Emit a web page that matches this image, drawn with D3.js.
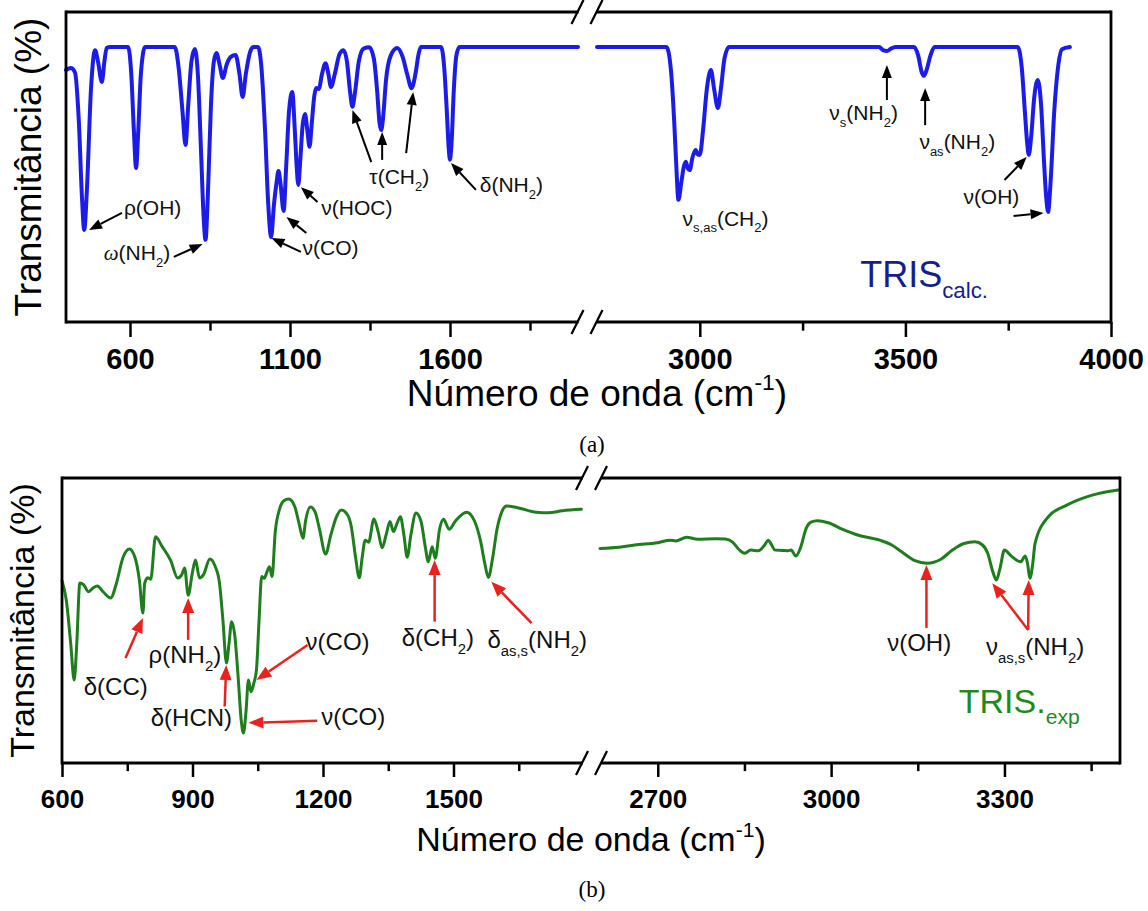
<!DOCTYPE html>
<html lang="pt">
<head>
<meta charset="utf-8">
<title>TRIS - espectros IV</title>
<script src="https://cdn.jsdelivr.net/npm/d3@7"></script>
<style>
body {margin: 0; background: #fff;}
svg {display: block; font-family: "Liberation Sans", Arial, sans-serif;}
</style>
</head>
<body>
<svg id="chart" width="1148" height="911"></svg>
<script>
// ---- calculated spectrum (a), [wavenumber, transmittance]
var calcLeft = [
    [400, 81.3], [415, 81.9], [428, 80.5], [440, 65], [450, 40], [457, 29.7], [465, 42], [478, 75],
    [491, 87.7], [500, 84], [512, 77.4], [520, 84], [527, 88.4], [538, 88.7], [594, 88.7], [604, 80],
    [612, 62], [619, 49.7], [626, 62], [634, 80], [647, 88.7], [740, 88.7], [752, 82], [764, 68],
    [773.5, 57.1], [782, 70], [792, 84], [802.5, 88.1], [812, 80], [822, 55], [830, 34], [836, 26.5],
    [843, 40], [853, 70], [862, 84], [870, 86.8], [880, 83], [890, 78.7], [902, 83], [915, 85.5],
    [930, 86.1], [942, 80], [952, 72.6], [962, 80], [975, 87], [985, 88.7], [1000, 88.7], [1010, 83],
    [1022, 62], [1032, 38], [1041, 27.4], [1050, 38], [1058, 45], [1064, 48.7], [1070, 45], [1080, 35.8],
    [1088, 50], [1097, 68], [1107, 74.2], [1115, 62], [1121, 50], [1126, 44.2], [1132, 52], [1140, 64],
    [1147, 67.1], [1154, 62], [1161, 56.5], [1168, 64], [1176, 73], [1182, 75.5], [1190, 75.2], [1200, 80],
    [1211, 83.5], [1220, 80], [1228, 75.8], [1240, 80], [1255, 86.5], [1267, 87.7], [1278, 84], [1288, 74],
    [1295, 69.4], [1303, 74], [1315, 84], [1330, 88.2], [1348, 88.6], [1362, 85], [1372, 75], [1380, 64],
    [1385, 61.9], [1391, 66], [1400, 78], [1415, 86], [1435, 88.4], [1452, 85.5], [1466, 80], [1480, 75.4],
    [1492, 80], [1502, 86.5], [1509, 88.7], [1572, 88.7], [1582, 82], [1590, 68], [1596, 56], [1600, 52.3],
    [1605, 58], [1612, 75], [1620, 86], [1630, 88.7], [2000, 88.7]
];
var calcRight = [
    [2750, 88.7], [2919, 88.7], [2930, 81], [2938, 64], [2943, 50], [2948, 39.4], [2955, 45], [2961, 50],
    [2966, 51.7], [2971, 49.5], [2975.6, 49], [2982, 53], [2990, 55.5], [2995, 54], [3000, 53.9], [3008, 62],
    [3017, 75], [3027, 81.3], [3035, 75], [3044, 69], [3052, 76], [3060, 85], [3071, 88.7], [3436, 88.7],
    [3447, 87.6], [3455, 87.4], [3465, 88.2], [3476, 88.7], [3521, 88.7], [3531, 86], [3540, 80.5], [3545, 79.4],
    [3552, 81.5], [3561, 86], [3571, 88.7], [3773, 88.7], [3783, 82], [3791, 67], [3796, 58], [3800, 53.9],
    [3806, 60], [3813, 72], [3822, 78.1], [3830, 70], [3837, 52], [3842, 41], [3847, 35.5], [3853, 45],
    [3862, 68], [3872, 83], [3881, 88], [3900, 88.7]
];

// ---- experimental spectrum (b)
var expLeft = [
    [600, 64], [610, 57], [620, 42], [628, 29.1], [634, 42], [641, 63.2], [650, 62.5], [661, 60.1],
    [672, 61.5], [681, 62.1], [695, 60], [712, 57.9], [725, 63], [740, 72], [755, 75.1], [768, 72],
    [778, 64], [786, 52.6], [790, 63], [797, 65], [804, 64.5], [815, 79.4], [830, 76], [850, 71],
    [866, 64.9], [875, 66], [882, 68.4], [890, 58.9], [900, 67], [907, 71.2], [916, 64.9], [925, 66],
    [940, 71.6], [952, 69], [962, 63.2], [970, 50], [978, 35.1], [984, 42], [990, 49.6], [997, 45],
    [1005, 30], [1012, 15], [1017, 10.5], [1023, 18], [1028.5, 29.1], [1034.5, 25], [1041, 28], [1047, 32.6],
    [1053, 50], [1059, 65.4], [1065, 64.8], [1071, 67], [1077, 68.9], [1083, 65.4], [1090, 80.7], [1100, 89],
    [1110, 92], [1121, 92.6], [1135, 90], [1145, 84], [1154, 78.9], [1160, 85], [1171, 89.8], [1182, 88],
    [1192, 82], [1206, 73.3], [1218, 80], [1230, 86], [1242, 88.8], [1256.6, 87], [1265, 83], [1275, 72],
    [1283.4, 65], [1290, 72], [1297, 78.2], [1305, 77.5], [1317, 85.6], [1327, 81], [1336, 75.5], [1345, 80],
    [1354, 84.7], [1362, 81.2], [1370, 84], [1378, 86.4], [1386, 80], [1393.6, 72.2], [1402, 80], [1413.8, 87.7],
    [1425, 85], [1435, 76], [1442, 70.6], [1451, 75.9], [1458, 71.8], [1468, 82], [1477, 85.5], [1490, 82],
    [1505, 85], [1530, 88], [1548, 85], [1562, 78], [1572, 70], [1580, 65.1], [1590, 72], [1600, 82],
    [1612, 88.5], [1622, 90.2], [1650, 89.5], [1690, 88], [1718.6, 87.8], [1750, 88.5], [1794, 89]
];
var expRight = [
    [2600, 75.3], [2633, 75.7], [2660, 76.5], [2700, 77.3], [2721.6, 78.2], [2731, 77.9], [2750, 79.2], [2769, 78.5],
    [2800, 78.7], [2817, 78.6], [2829, 77.6], [2840, 75], [2850, 73.6], [2861, 74.7], [2874, 74.5], [2885, 76.5],
    [2891, 78.2], [2897, 76.5], [2903, 74.7], [2915, 74.6], [2925, 74.5], [2931, 74.7], [2939, 72.6], [2946.6, 75.3],
    [2957, 82.4], [2965, 84.5], [2976, 85], [2995, 84.3], [3020, 82], [3046, 80], [3084, 78.2], [3105, 76.5],
    [3122, 74.1], [3145, 71], [3166, 70.1], [3190, 71.5], [3210, 74.7], [3230, 77], [3249, 77.6], [3262, 76.5],
    [3271, 73.6], [3280, 67], [3286, 64.2], [3292, 68], [3300, 74.7], [3312, 72.6], [3328, 70.6], [3336, 72.6],
    [3340, 70], [3344, 64.8], [3349, 70], [3353, 77.1], [3376, 86.4], [3408, 90.5], [3452, 94], [3497, 95.8]
];

// ---- ticks
var calcTicksLeft = [600, 1100, 1600];
var calcMinorLeft = [850, 1350, 1850];
var calcTicksRight = [3000, 3500, 4000];
var calcMinorRight = [3250, 3750];
var expTicksLeft = [600, 900, 1200, 1500];
var expMinorLeft = [750, 1050, 1350, 1650];
var expTicksRight = [2700, 3000, 3300];
var expMinorRight = [2850, 3150, 3450];

// ---- band assignments: label anchor [wavenumber, T] and arrows [from, to]
var calcLabels = [
    {text: 'ρ(OH)', at: [581, 36.8]},
    {text: '*{ω}(NH_{2})', at: [518, 22.3]},
    {text: 'ν(CO)', at: [1139, 23.9]},
    {text: 'ν(HOC)', at: [1198, 36.8]},
    {text: 'τ(CH_{2})', at: [1348, 46.8]},
    {text: 'δ(NH_{2})', at: [1693, 44.2]},
    {text: 'ν_{s,as}(CH_{2})', at: [2958, 33.5]},
    {text: 'ν_{s}(NH_{2})', at: [3315, 67.4]},
    {text: 'ν_{as}(NH_{2})', at: [3534, 58.1]},
    {text: 'ν(OH)', at: [3641, 40.3]}
];
var calcArrows = [
    [[575, 35.2], [472, 29.7]], [[737, 21], [827, 25.2]], [[1134, 22.6], [1042, 27.1]],
    [[1151, 28.7], [1089, 33.9]], [[1186, 38.7], [1134, 43.5]], [[1354, 51.6], [1295, 68.4]],
    [[1388, 52.3], [1388, 61.3]], [[1463, 54.5], [1485, 74.2]], [[1681, 42.6], [1603, 51.3]],
    [[3455, 71.6], [3455, 82.9]], [[3548, 63.5], [3548, 75.5]], [[3741, 45.8], [3795, 53.2]],
    [[3763, 34.2], [3836, 35.2]]
];
var expLabels = [
    {text: 'δ(CC)', at: [650, 26.8]},
    {text: 'ρ(NH_{2})', at: [799, 37.9]},
    {text: 'δ(HCN)', at: [804, 15.8]},
    {text: 'ν(CO)', at: [1160, 42.6]},
    {text: 'ν(CO)', at: [1196, 16.2]},
    {text: 'δ(CH_{2})', at: [1381, 43.9]},
    {text: 'δ_{as,s}(NH_{2})', at: [1578, 43.2]},
    {text: 'ν(OH)', at: [3097, 42.1]},
    {text: 'ν_{as,s}(NH_{2})', at: [3268, 40.8]}
];
var expArrows = [
    [[746, 36.8], [786, 50.9]], [[890, 43.2], [890, 57.9]], [[974, 19.8], [977.5, 34.4]],
    [[1164.6, 41.4], [1047, 29.1]], [[1186.7, 14.8], [1028.5, 14.1]], [[1456.6, 49.6], [1456.6, 71.2]],
    [[1679.5, 49.1], [1587, 63.6]], [[3165, 47.4], [3165, 69.5]], [[3341, 46.7], [3279, 63.1]],
    [[3341, 46.7], [3342, 64.2]]
];

var svg = d3.select('#chart');

// text with _{sub}, ^{sup} and *{italic} parts
var richText = function(text, str) {
    var fs = parseFloat(text.attr('font-size'));
    var shift = 0;
    str.split(/([_^*]\{[^}]*\})/).filter(function(s) { return s.length; }).forEach(function(s) {
        var target = 0, t = s, small = false, italic = false;
        if (s[0] === '_') { target = 0.32; t = s.slice(2, -1); small = true; }
        if (s[0] === '^') { target = -0.42; t = s.slice(2, -1); small = true; }
        if (s[0] === '*') { t = s.slice(2, -1); italic = true; }
        var ts = text.append('tspan').text(t).attr('dy', ((target - shift) * fs) + 'px');
        if (small) ts.attr('font-size', fs * 0.62);
        if (italic) ts.attr('font-style', 'italic').attr('font-family', '"Liberation Serif", serif');
        shift = target;
    });
};

var arrow = function(g, x1, y1, x2, y2, o) {
    var a = Math.atan2(y2 - y1, x2 - x1);
    var bx = x2 - Math.cos(a) * o.head, by = y2 - Math.sin(a) * o.head;
    g.append('line').attr('x1', x1).attr('y1', y1).attr('x2', bx).attr('y2', by)
        .attr('stroke', o.color).attr('stroke-width', o.width);
    var px = -Math.sin(a) * o.half, py = Math.cos(a) * o.half;
    g.append('path')
        .attr('d', 'M' + x2 + ',' + y2 + 'L' + (bx + px) + ',' + (by + py) + 'L' + (bx - px) + ',' + (by - py) + 'Z')
        .attr('fill', o.color);
};

var drawPanel = function(p) {
    var g = svg.append('g');
    var xl = d3.scaleLinear().domain(p.leftDomain).range(p.leftRange);
    var xr = d3.scaleLinear().domain(p.rightDomain).range(p.rightRange);
    var y = d3.scaleLinear().domain([0, 100]).range([p.bottom, p.top]);
    var xOf = function(w) { return w <= p.leftDomain[1] ? xl(w) : xr(w); };

    [[p.left, xl], [p.right, xr]].forEach(function(s) {
        var line = d3.line().x(function(d) { return s[1](d[0]); }).y(function(d) { return y(d[1]); })
            .curve(d3.curveMonotoneX);
        g.append('path').datum(s[0]).attr('d', line).attr('fill', 'none')
            .attr('stroke', p.color).attr('stroke-width', p.lineWidth)
            .attr('stroke-linejoin', 'round').attr('stroke-linecap', 'round');
    });

    // frame with axis break
    var c = (p.leftRange[1] + p.rightRange[0]) / 2;
    var frame = g.append('g').attr('stroke', '#000').attr('stroke-width', 2.8).attr('fill', 'none');
    var x0 = p.leftRange[0], x3 = p.rightRange[1];
    frame.append('line').attr('x1', x0).attr('x2', x0).attr('y1', p.top - 1.4).attr('y2', p.bottom + 1.4);
    frame.append('line').attr('x1', x3).attr('x2', x3).attr('y1', p.top - 1.4).attr('y2', p.bottom + 1.4);
    [p.top, p.bottom].forEach(function(yy) {
        frame.append('line').attr('x1', x0).attr('x2', c - 9).attr('y1', yy).attr('y2', yy);
        frame.append('line').attr('x1', c + 9).attr('x2', x3).attr('y1', yy).attr('y2', yy);
        [c - 10, c + 9].forEach(function(sx) {
            frame.append('line').attr('x1', sx - 6).attr('y1', yy + 12).attr('x2', sx + 6).attr('y2', yy - 12)
                .attr('stroke-width', 2.2);
        });
    });

    // axes
    [[xl, p.ticksLeft, p.minorLeft], [xr, p.ticksRight, p.minorRight]].forEach(function(s) {
        var major = g.append('g').attr('transform', 'translate(0,' + p.bottom + ')')
            .call(d3.axisBottom(s[0]).tickValues(s[1]).tickSize(p.tick).tickPadding(p.pad).tickFormat(d3.format('d')));
        var minor = g.append('g').attr('transform', 'translate(0,' + p.bottom + ')')
            .call(d3.axisBottom(s[0]).tickValues(s[2]).tickSize(p.tick * 0.58).tickFormat(''));
        [major, minor].forEach(function(a) {
            a.select('.domain').remove();
            a.selectAll('.tick line').attr('stroke', '#000').attr('stroke-width', 2.5);
        });
        major.selectAll('.tick text').attr('fill', '#000').attr('font-size', p.tickFont)
            .attr('font-weight', 'bold').attr('font-family', '"Liberation Sans", Arial, sans-serif');
    });

    // axis titles
    g.append('text').attr('transform', 'translate(' + p.yTitleX + ',' + ((p.top + p.bottom) / 2) + ') rotate(-90)')
        .attr('text-anchor', 'middle').attr('font-size', p.titleFont).text('Transmitância (%)');
    richText(g.append('text').attr('x', p.xTitleX).attr('y', p.xTitleY).attr('text-anchor', 'middle')
        .attr('font-size', p.titleFont), 'Número de onda (cm^{-1})');
    g.append('text').attr('x', p.captionX).attr('y', p.captionY).attr('text-anchor', 'middle')
        .attr('font-family', '"Liberation Serif", "Times New Roman", serif').attr('font-size', 23).text(p.caption);

    // band assignments
    p.labels.forEach(function(d) {
        richText(g.append('text').attr('x', xOf(d.at[0])).attr('y', y(d.at[1]) + p.labelFont * 0.35)
            .attr('font-size', p.labelFont).attr('fill', '#111'), d.text);
    });
    p.arrows.forEach(function(d) {
        arrow(g, xOf(d[0][0]), y(d[0][1]), xOf(d[1][0]), y(d[1][1]), p.arrow);
    });

    richText(g.append('text').attr('x', xOf(p.name.at[0])).attr('y', y(p.name.at[1]))
        .attr('font-size', p.nameFont).attr('fill', p.nameColor), p.name.text);
};

drawPanel({
    left: calcLeft, right: calcRight,
    leftDomain: [400, 2000], leftRange: [66, 578],
    rightDomain: [2750, 4000], rightRange: [597, 1111],
    top: 12, bottom: 322,
    ticksLeft: calcTicksLeft, minorLeft: calcMinorLeft,
    ticksRight: calcTicksRight, minorRight: calcMinorRight,
    tick: 15, pad: 11, tickFont: 29, titleFont: 37,
    yTitleX: 41, xTitleX: 597, xTitleY: 406,
    caption: '(a)', captionX: 592, captionY: 452,
    color: '#1c1ce8', lineWidth: 4,
    labels: calcLabels, arrows: calcArrows, labelFont: 21,
    arrow: {color: '#000', width: 2, head: 13, half: 5},
    name: {text: 'TRIS_{calc.}', at: [3390, 11.3]}, nameFont: 36, nameColor: '#141e8c'
});

drawPanel({
    left: expLeft, right: expRight,
    leftDomain: [600, 1800], leftRange: [62, 584],
    rightDomain: [2600, 3500], rightRange: [600, 1120],
    top: 478, bottom: 763,
    ticksLeft: expTicksLeft, minorLeft: expMinorLeft,
    ticksRight: expTicksRight, minorRight: expMinorRight,
    tick: 14, pad: 13, tickFont: 26, titleFont: 34,
    yTitleX: 34, xTitleX: 591, xTitleY: 851,
    caption: '(b)', captionX: 592, captionY: 897,
    color: '#1e7e1e', lineWidth: 3,
    labels: expLabels, arrows: expArrows, labelFont: 24,
    arrow: {color: '#e8231e', width: 2.5, head: 15, half: 6},
    name: {text: 'TRIS._{exp}', at: [3221, 17.5]}, nameFont: 34, nameColor: '#1e8a1e'
});
</script>
</body>
</html>
